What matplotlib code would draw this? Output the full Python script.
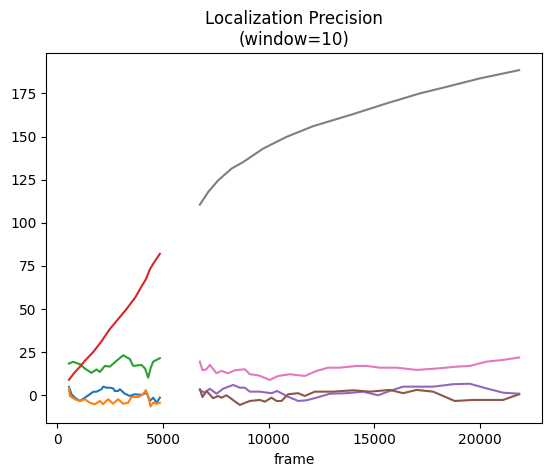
import matplotlib
matplotlib.use('Agg')
import matplotlib.pyplot as plt

# first group of tracks (frames ~550-4850)
blue_x = [550, 671, 828, 1064, 1301, 1537, 1695, 1854, 2091, 2167, 2327, 2483, 2640, 2720, 2876, 2956,
          3193, 3430, 3666, 3980, 4219, 4376, 4533, 4690, 4849]
blue_y = [4.8, 0.6, -1.4, -3.3, -1.4, 0.6, 2.0, 2.1, 3.5, 5.0, 4.4, 4.4, 4.0, 2.5, 2.5, 3.5,
          0.9, -0.4, 0.6, 0.2, 1.5, -3.3, -1.4, -4.3, -1.4]

orange_x = [550, 591, 828, 1064, 1301, 1537, 1774, 2010, 2167, 2404, 2640, 2876, 3114, 3350, 3508,
            3823, 4060, 4186, 4297, 4408, 4533, 4690, 4849]
orange_y = [4.2, -0.4, -2.3, -3.3, -2.3, -4.3, -5.2, -3.3, -5.2, -2.3, -4.9, -2.3, -4.9, -4.3, -1.0,
            -1.0, 0.6, 3.0, -0.4, -6.5, -4.3, -4.9, -4.3]

green_x = [550, 748, 1064, 1300, 1616, 1853, 2010, 2247, 2483, 2800, 3114, 3430, 3587, 3980, 4150,
           4297, 4420, 4533, 4849]
green_y = [18.4, 19.4, 18.0, 15.5, 13.0, 15.0, 13.5, 17.0, 16.6, 20.0, 23.2, 21.0, 17.0, 17.6, 15.5,
           10.2, 16.0, 19.5, 21.5]

red_x = [550, 800, 1064, 1300, 1694, 2100, 2483, 2900, 3272, 3700, 3980, 4200, 4376, 4600, 4850]
red_y = [9.0, 13.0, 16.5, 20.0, 25.0, 31.5, 38.4, 44.5, 50.0, 57.0, 63.0, 67.5, 73.0, 77.5, 82.0]

# second group of tracks (frames ~6740-21850)
purple_x = [6741, 6977, 7214, 7529, 7844, 8316, 8633, 8870, 9106, 9579, 10132, 10398, 10842, 11391,
            11788, 12261, 12890, 13680, 14466, 15175, 15729, 16358, 17777, 18723, 19513, 20300,
            21088, 21850]
purple_y = [3.1, 1.5, 3.8, 0.9, 3.8, 6.0, 4.4, 4.4, 2.1, 2.1, 1.2, 2.5, -0.4, -3.3,
            -2.9, -1.4, 0.9, 1.2, 2.1, 0.0, 2.5, 5.0, 5.0, 6.4, 6.7, 4.0,
            1.5, 0.9]

brown_x = [6741, 6867, 7056, 7371, 7607, 7765, 8001, 8633, 9106, 9579, 9816, 10132, 10369, 10605,
           10918, 11391, 11707, 12180, 13047, 13993, 14783, 15729, 16358, 16991, 17777, 18803,
           19669, 21088, 21850]
brown_y = [3.5, -1.0, 2.5, -1.7, -0.4, -1.4, 0.0, -5.6, -3.3, -2.7, -3.7, -1.4, -3.3, -3.3,
           0.6, 1.2, -0.4, 2.1, 2.1, 2.9, 2.1, 3.1, 1.2, 3.1, 2.1, -3.3,
           -2.7, -2.7, 0.6]

pink_x = [6741, 6867, 7056, 7214, 7529, 7765, 8080, 8397, 8870, 9106, 9500, 10052, 10445, 10998,
          11707, 12261, 12810, 13364, 14153, 14626, 15255, 16045, 16991, 17937, 18883, 19513,
          20300, 21088, 21850]
pink_y = [19.5, 14.5, 15.1, 17.6, 12.8, 14.1, 12.8, 14.5, 15.1, 12.2, 11.6, 8.9, 11.2, 12.2,
          11.2, 14.1, 16.0, 16.0, 17.0, 17.0, 16.0, 16.0, 14.7, 15.5, 16.6, 17.0,
          19.5, 20.5, 21.9]

gray_x = [6741, 7134, 7607, 8240, 8789, 9735, 10842, 12101, 13993, 15573, 17148, 18410, 19986, 21850]
gray_y = [110.5, 117.8, 124.6, 131.4, 135.2, 143.0, 149.8, 156.0, 163.0, 169.2, 175.0, 178.8, 183.7, 188.5]

fig = plt.figure(figsize=(5.52, 4.76), dpi=100)
ax = fig.add_subplot(111)
fig.subplots_adjust(left=0.0842, right=0.9813, bottom=0.1107, top=0.888)

ax.plot(blue_x, blue_y, color='C0')
ax.plot(orange_x, orange_y, color='C1')
ax.plot(green_x, green_y, color='C2')
ax.plot(red_x, red_y, color='C3')
ax.plot(purple_x, purple_y, color='C4')
ax.plot(brown_x, brown_y, color='C5')
ax.plot(pink_x, pink_y, color='C6')
ax.plot(gray_x, gray_y, color='C7')

ax.set_title('Localization Precision\n(window=10)')
ax.set_xlabel('frame')

fig.savefig('out.png', dpi=100)
print('Done')
